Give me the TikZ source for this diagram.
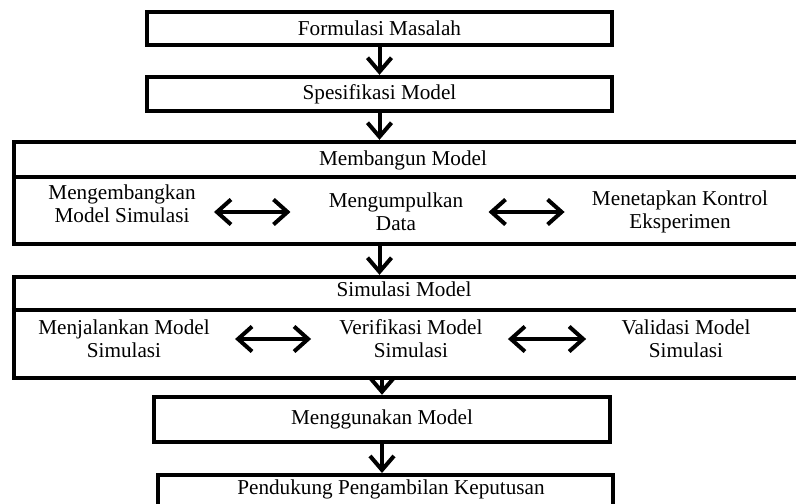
\documentclass[tikz,border=0pt]{standalone}
\usepackage{fontspec}
\setmainfont{Liberation Serif}
\usetikzlibrary{arrows.meta}
\usetikzlibrary{positioning}

\tikzset{
  stage/.style={draw, line width=2.2pt, inner sep=0pt, font=\fontsize{10.6}{11.5}\selectfont},
  txt/.style={align=center, inner sep=0pt, font=\fontsize{10.6}{11.5}\selectfont},
  flow/.style={-{Straight Barb[length=7pt,width=12pt]}, line width=2pt},
  twoway/.style={{Straight Barb[length=7pt,width=12.5pt]}-{Straight Barb[length=7pt,width=12.5pt]}, line width=2pt},
}

\begin{document}
\begin{tikzpicture}[x=0.5pt, y=-0.5pt]
          \useasboundingbox (0,0) rectangle (796,503);
          \clip (0,0) rectangle (796,503);

          \node [stage, minimum width=232.5pt, minimum height=16.5pt] (formulasi) at (379.5,28.5) {Formulasi Masalah};
          \node [stage, minimum width=232.5pt, minimum height=17pt] (spesifikasi) at (379.5,94) {Spesifikasi Model};

          % membangun model
          \node [stage, minimum width=399pt, minimum height=51pt] (bangun) at (413,193) {};
          \coordinate (garisbangun) at (0,177);
          \draw [line width=2.2pt] (bangun.west |- garisbangun) -- (bangun.east |- garisbangun);
          \node [txt] (bangunjudul) at (403,160) {Membangun Model};
          \node [txt] (kembang) at (122,204) {Mengembangkan\\Model Simulasi};
          \node [txt] (data) at (396,212) {Mengumpulkan\\Data};
          \node [txt] (kontrol) at (680,212) {Menetapkan Kontrol\\Eksperimen};
          \coordinate (kembangkanan) at (kembang.east |- data.west);

          % simulasi model
          \node [stage, minimum width=399pt, minimum height=50.5pt] (simulasi) at (413,327.5) {};
          \coordinate (garissimulasi) at (0,310);
          \draw [line width=2.2pt] (simulasi.west |- garissimulasi) -- (simulasi.east |- garissimulasi);
          \node [txt] (simulasijudul) at (404,289) {Simulasi Model};
          \node [txt] (jalan) at (124,339) {Menjalankan Model\\Simulasi};
          \node [txt] (verifikasi) at (411,339) {Verifikasi Model\\Simulasi};
          \node [txt] (validasi) at (686,339) {Validasi Model\\Simulasi};

          \node [stage, minimum width=228pt, minimum height=22.5pt] (gunakan) at (382,419.5) {Menggunakan Model};
          \node [stage, minimum width=227.5pt, minimum height=30pt, anchor=north] (keputusan) at (385.5,473) {};
          \node [txt] (keputusanteks) at (391,489) {Pendukung Pengambilan Keputusan};

          \draw [flow] (formulasi.south) -- (spesifikasi.north);
          \draw [flow] (spesifikasi.south) -- (spesifikasi.south |- bangun.north);
          \draw [flow] (spesifikasi.south |- bangun.south) -- (spesifikasi.south |- simulasi.north);
          \draw [flow] (gunakan.north |- simulasi.south) -- (gunakan.north);
          \draw [flow] (gunakan.south) -- (gunakan.south |- keputusan.north);

          \draw [twoway] ([xshift=9pt]kembangkanan) -- ([xshift=-19pt]data.west);
          \draw [twoway] ([xshift=12.5pt]data.east) -- ([xshift=-13.5pt]kontrol.west);
          \draw [twoway] ([xshift=12.5pt]jalan.east) -- ([xshift=-14pt]verifikasi.west);
          \draw [twoway] ([xshift=12.5pt]verifikasi.east) -- ([xshift=-17.5pt]validasi.west);
        \end{tikzpicture}
\end{document}
